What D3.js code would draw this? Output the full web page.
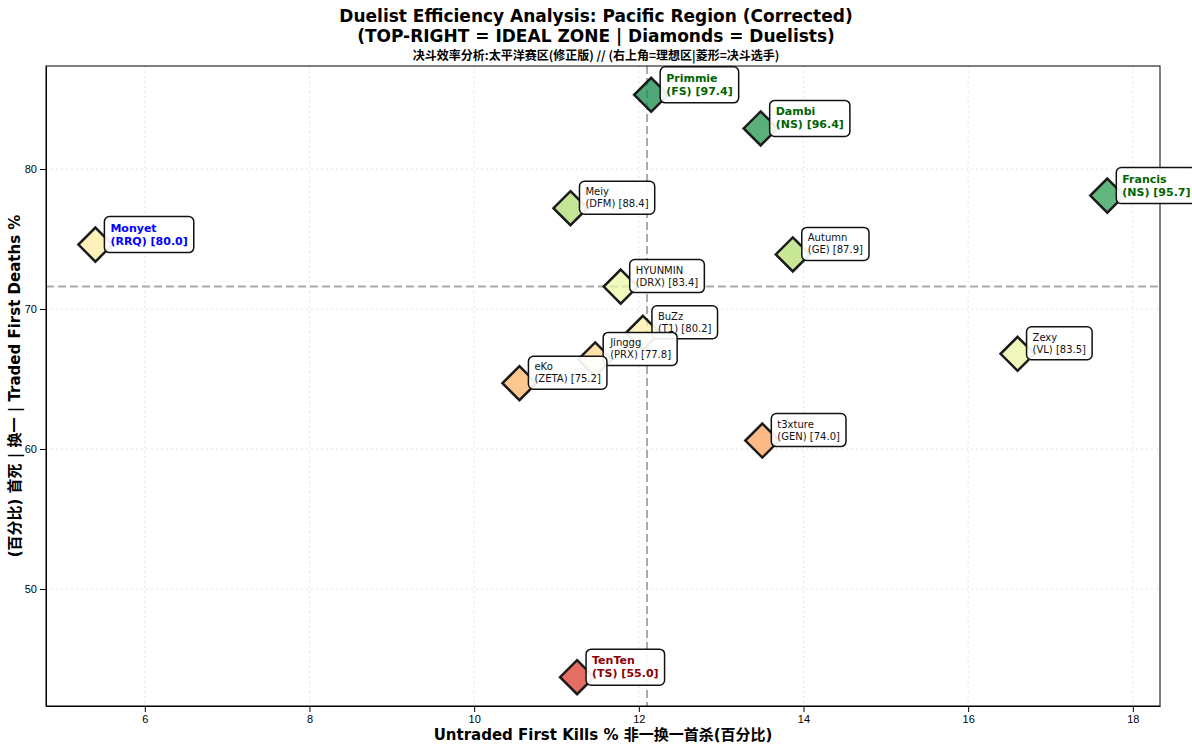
<!DOCTYPE html>
<html><head><meta charset="utf-8">
<script src="https://cdn.jsdelivr.net/npm/d3@7"></script>
<style>body{margin:0;background:#fff;font-family:"DejaVu Sans","Noto Sans CJK SC",sans-serif}</style>
</head><body><div id="chart"></div>
<script>
const players = ["Primmie","Dambi","Francis","Meiy","Monyet","Autumn","HYUNMIN","BuZz","Jinggg","eKo","Zexy","t3xture","TenTen"];
const teams   = ["FS","NS","NS","DFM","RRQ","GE","DRX","T1","PRX","ZETA","VL","GEN","TS"];
const ufk     = [12.15,13.48,17.69,11.17,5.40,13.87,11.78,12.05,11.47,10.55,16.60,13.50,11.25];
const tfd     = [85.3,82.9,78.1,77.2,74.6,73.9,71.6,68.3,66.4,64.7,66.8,60.6,43.7];
const score   = [97.4,96.4,95.7,88.4,80.0,87.9,83.4,80.2,77.8,75.2,83.5,74.0,55.0];
const xTicks = [6,8,10,12,14,16,18], yTicks = [50,60,70,80];
const refX = 12.1, refY = 71.6;

const W = 1192, H = 750, m = {l:46, r:32, t:66, b:44};
const svg = d3.select("#chart").append("svg").attr("width", W).attr("height", H);
const x = d3.scaleLinear().domain([4.80,18.33]).range([m.l, W-m.r]);
const y = d3.scaleLinear().domain([41.64,87.36]).range([H-m.b, m.t]);
const col = d3.scaleSequential(t => d3.interpolateRdYlGn(0.12 + 0.88*t)).domain([68,100]).clamp(true);

// grid
svg.append("g").selectAll("line").data(xTicks).join("line")
  .attr("x1", d=>x(d)).attr("x2", d=>x(d)).attr("y1", m.t).attr("y2", H-m.b)
  .attr("stroke","#ddd").attr("stroke-dasharray","2,3").attr("stroke-width",0.8);
svg.append("g").selectAll("line").data(yTicks).join("line")
  .attr("y1", d=>y(d)).attr("y2", d=>y(d)).attr("x1", m.l).attr("x2", W-m.r)
  .attr("stroke","#ddd").attr("stroke-dasharray","2,3").attr("stroke-width",0.8);

// reference lines
svg.append("line").attr("x1",x(refX)).attr("x2",x(refX)).attr("y1",m.t).attr("y2",H-m.b)
  .attr("stroke","#aaa").attr("stroke-width",2).attr("stroke-dasharray","8,4");
svg.append("line").attr("y1",y(refY)).attr("y2",y(refY)).attr("x1",m.l).attr("x2",W-m.r)
  .attr("stroke","#aaa").attr("stroke-width",2).attr("stroke-dasharray","8,4");

// axes
svg.append("g").attr("transform",`translate(0,${H-m.b})`)
  .call(d3.axisBottom(x).tickValues(xTicks).tickSizeOuter(0)).style("font-size","11px");
svg.append("g").attr("transform",`translate(${m.l},0)`)
  .call(d3.axisLeft(y).tickValues(yTicks).tickSizeOuter(0)).style("font-size","11px");
svg.append("rect").attr("x",m.l).attr("y",m.t).attr("width",W-m.l-m.r).attr("height",H-m.t-m.b)
  .attr("fill","none").attr("stroke","#000");

// points
const data = players.map((p,i)=>({p, t:teams[i], x:ufk[i], y:tfd[i], s:score[i]}));
const special = {Primmie:"darkgreen", Dambi:"darkgreen", Francis:"darkgreen", Monyet:"blue", TenTen:"darkred"};
const g = svg.append("g");
data.forEach(d => {
  const cx = x(d.x), cy = y(d.y), r = 17;
  g.append("path").attr("d",`M${cx},${cy-r}L${cx+r},${cy}L${cx},${cy+r}L${cx-r},${cy}Z`)
    .attr("fill", col(d.s)).attr("fill-opacity",0.75).attr("stroke","#1a1a1a").attr("stroke-width",2.5);
  const sp = special[d.p];
  const lab = g.append("g");
  const tx = cx + 15, ty = cy - 13;
  const t = lab.append("text").attr("x",tx).attr("y",ty)
    .attr("font-size", sp ? 11 : 10).attr("font-weight", sp ? "bold" : "normal")
    .attr("fill", sp || "#111");
  t.append("tspan").attr("x",tx).attr("dy",0).text(d.p);
  t.append("tspan").attr("x",tx).attr("dy", sp?13:12).text(`(${d.t}) [${d.s.toFixed(1)}]`);
  const bb = t.node().getBBox();
  lab.insert("rect","text").attr("x",bb.x-6).attr("y",bb.y-5).attr("width",bb.width+12).attr("height",bb.height+10)
    .attr("rx",5).attr("fill","#fff").attr("fill-opacity",0.92).attr("stroke","#111").attr("stroke-width",1.5);
});

// titles
svg.append("text").attr("x",W/2).attr("y",22).attr("text-anchor","middle").attr("font-size",17).attr("font-weight","bold")
  .text("Duelist Efficiency Analysis: Pacific Region (Corrected)");
svg.append("text").attr("x",W/2).attr("y",42).attr("text-anchor","middle").attr("font-size",17).attr("font-weight","bold")
  .text("(TOP-RIGHT = IDEAL ZONE | Diamonds = Duelists)");
svg.append("text").attr("x",W/2).attr("y",60).attr("text-anchor","middle").attr("font-size",12).attr("font-weight","bold")
  .attr("font-family","Noto Sans CJK SC").text("决斗效率分析:太平洋赛区(修正版) // (右上角=理想区|菱形=决斗选手)");
svg.append("text").attr("x",(m.l+W-m.r)/2).attr("y",740).attr("text-anchor","middle").attr("font-size",15).attr("font-weight","bold")
  .text("Untraded First Kills %  非一换一首杀(百分比)");
svg.append("text").attr("transform",`translate(20,${(m.t+H-m.b)/2}) rotate(-90)`).attr("text-anchor","middle")
  .attr("font-size",15).attr("font-weight","bold").text("(百分比) 首死 | 换一 |    Traded First Deaths %");
</script></body></html>
